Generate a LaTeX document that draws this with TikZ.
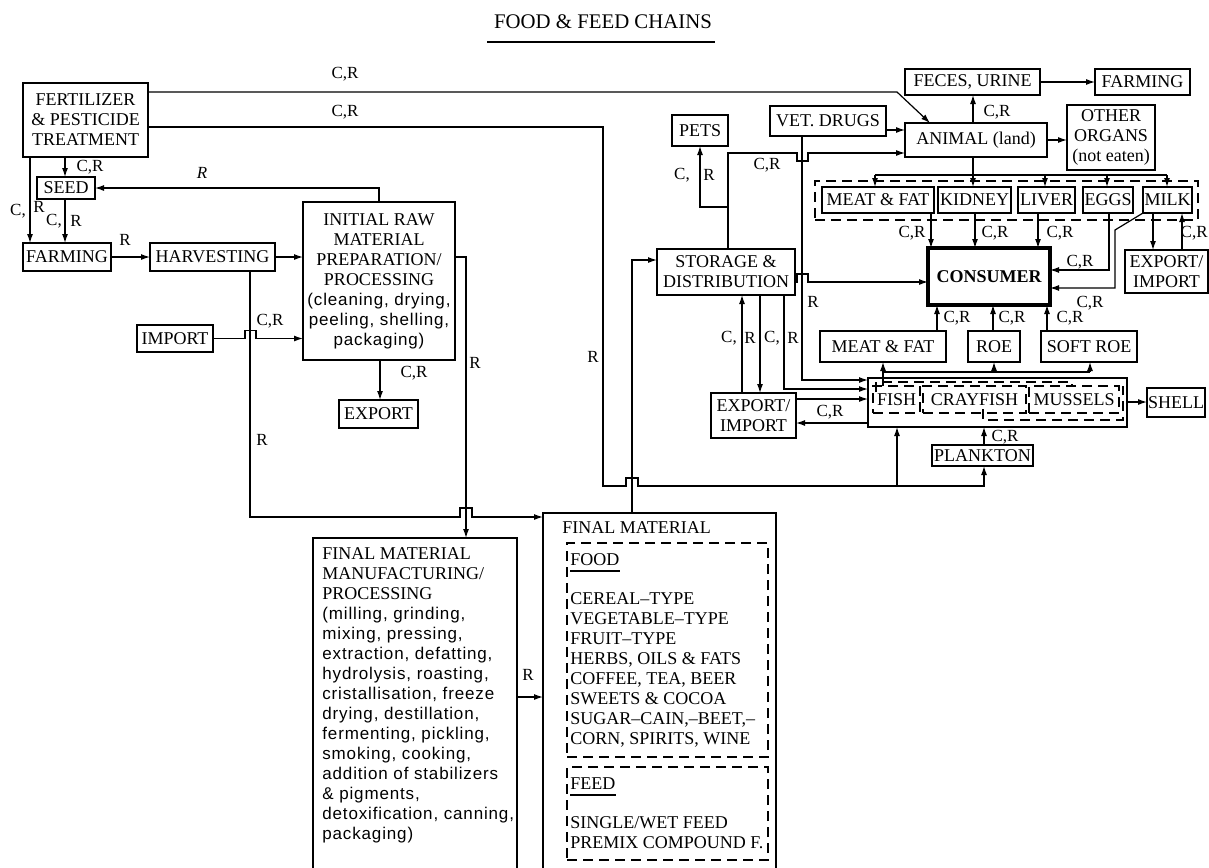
\documentclass[tikz,border=0pt]{standalone}
\usepackage{fontspec}
\setmainfont{Liberation Serif}
\newfontfamily\sfls[LetterSpace=5]{Liberation Sans}
\usetikzlibrary{arrows.meta}
\newcommand\bxfont{\fontsize{9}{10}\selectfont}
\newcommand\lbfont{\fontsize{8.5}{9}\selectfont}
\newcommand\sfs{\sfls\fontsize{8.5}{10}\selectfont}
\newcommand\mkbox[7][]{%
  \pgfmathsetmacro\bcx{(#3+#5)/2}%
  \pgfmathsetmacro\bcy{(#4+#6)/2}%
  \pgfmathsetmacro\bw{(#5-#3)/2}%
  \pgfmathsetmacro\bh{(#6-#4)/2}%
  \node[box,minimum width=\bw pt,minimum height=\bh pt,#1] (#2) at (\bcx,\bcy) {#7};}
\tikzset{
  box/.style={draw,line width=1.1pt,inner sep=0.5pt,outer sep=0pt,font=\bxfont,align=center},
  thinbox/.style={line width=0.6pt},
  dbox/.style={draw,line width=0.6pt,dash pattern=on 5pt off 3pt,outer sep=0pt},
  dline/.style={line width=0.6pt,dash pattern=on 5pt off 3pt},
  conn/.style={line width=0.6pt},
  arr/.style={conn,-{Latex[length=4.5pt,width=3pt]}},
  lab/.style={font=\lbfont,inner sep=0pt},
  txt/.style={inner sep=0pt,font=\bxfont},
}
\begin{document}
\begin{tikzpicture}[x=0.5pt,y=-0.5pt]
\path[use as bounding box] (0,0) rectangle (1209,867);
\fill[white] (0,0) rectangle (1209,867);
\clip (0,0) rectangle (1209,867);

% title
\node[inner sep=0pt,font=\fontsize{10.4}{12}\selectfont] (title) at (603,22) {FOOD \& FEED CHAINS};
\draw[line width=0.9pt] (487,42) -- (715,42);

% ---------- boxes, left part
\mkbox{fert}{23}{83}{148}{157}{FERTILIZER\\\& PESTICIDE\\TREATMENT}
\mkbox{seed}{37}{177}{95}{199}{SEED}
\mkbox{farmL}{23}{243}{111}{271}{FARMING}
\mkbox{harv}{150}{243}{275}{271}{HARVESTING}
\mkbox{init}{303}{202}{455}{360}{INITIAL RAW\\MATERIAL\\PREPARATION/\\PROCESSING\\{\sfs (cleaning, drying,}\\{\sfs peeling, shelling,}\\{\sfs packaging)}}
\mkbox{import}{137}{325}{213}{352}{IMPORT}
\mkbox{exM}{339}{400}{418}{428}{EXPORT}
\mkbox{manuf}{313}{538}{517}{900}{}
\mkbox{finalM}{543}{513}{776}{900}{}
\mkbox[dbox]{food}{567}{543}{768}{757}{}
\mkbox[dbox]{feed}{567}{767}{768}{860}{}

\node[txt,anchor=north west,align=left] (manuftxt) at (322,547) {FINAL MATERIAL\\MANUFACTURING/\\PROCESSING\\{\sfs (milling, grinding,}\\{\sfs mixing, pressing,}\\{\sfs extraction, defatting,}\\{\sfs hydrolysis, roasting,}\\{\sfs cristallisation, freeze}\\{\sfs drying, destillation,}\\{\sfs fermenting, pickling,}\\{\sfs smoking, cooking,}\\{\sfs addition of stabilizers}\\{\sfs \& pigments,}\\{\sfs detoxification, canning,}\\{\sfs packaging)}};
\node[txt,anchor=west] (fmtitle) at (562,528) {FINAL MATERIAL};
\node[txt,anchor=base west] (foodt) at (570,565) {FOOD};
\draw[conn] ([yshift=-3pt]foodt.base west) -- ([yshift=-3pt]foodt.base east);
\node[txt,anchor=north west,align=left] (foodlist) at (570,592) {CEREAL–TYPE\\VEGETABLE–TYPE\\FRUIT–TYPE\\HERBS, OILS \& FATS\\COFFEE, TEA, BEER\\SWEETS \& COCOA\\SUGAR–CAIN,–BEET,–\\CORN, SPIRITS, WINE};
\node[txt,anchor=base west] (feedt) at (570,789) {FEED};
\draw[conn] ([yshift=-3pt]feedt.base west) -- ([yshift=-3pt]feedt.base east);
\node[txt,anchor=north west,align=left] (feedlist) at (570,816) {SINGLE/WET FEED\\PREMIX COMPOUND F.};

% ---------- boxes, right part
\mkbox{storage}{657}{249}{795}{295}{STORAGE \&\\DISTRIBUTION}
\mkbox{pets}{672}{115}{728}{146}{PETS}
\mkbox{vet}{770}{106}{886}{136}{VET. DRUGS}
\mkbox{feces}{905}{69}{1040}{95}{FECES, URINE}
\mkbox{farmR}{1095}{69}{1190}{95}{FARMING}
\mkbox{animal}{905}{123}{1047}{157}{ANIMAL (land)}
\mkbox{other}{1067}{105}{1155}{170}{OTHER\\ORGANS\\(not eaten)}
\mkbox[dbox]{agroup}{815}{181}{1198}{220}{}
\mkbox{meatA}{822}{187}{934}{213}{MEAT \& FAT}
\mkbox{kidney}{938}{187}{1011}{213}{KIDNEY}
\mkbox{liver}{1018}{187}{1075}{213}{LIVER}
\mkbox{eggs}{1083}{187}{1133}{213}{EGGS}
\mkbox{milk}{1143}{187}{1192}{213}{MILK}
\mkbox[line width=2pt,font=\bxfont\bfseries]{consumer}{928}{248}{1050}{305}{CONSUMER}
\mkbox{exR}{1125}{250}{1208}{293}{EXPORT/\\IMPORT}
\mkbox{meatF}{820}{331}{946}{362}{MEAT \& FAT}
\mkbox{roe}{968}{331}{1020}{362}{ROE}
\mkbox{softroe}{1041}{331}{1137}{362}{SOFT ROE}
\mkbox[thinbox]{fishbox}{868}{378}{1127}{427}{}
\mkbox[dbox]{fish}{873}{386}{920}{413}{FISH}
\mkbox[dbox]{cray}{923}{386}{1026}{413}{CRAYFISH}
\mkbox[dbox]{mussels}{1029}{386}{1119}{413}{MUSSELS}
% overlapping group frames inside the fish box
\draw[dline] (876,392) -- (876,382) -- (1072,382) -- (1072,387);
\draw[dline] (983,409) -- (983,420) -- (1123,420) -- (1123,386);
\mkbox{shell}{1147}{388}{1205}{417}{SHELL}
\mkbox{plankton}{932}{445}{1033}{466}{PLANKTON}
\mkbox{exL}{711}{393}{796}{438}{EXPORT/\\IMPORT}

% ---------- connectors, left
\draw[arr] (fert.east |- 0,92) -- (897,92) -- (930,0 |- animal.north);
\draw[arr] (fert.east |- 0,127) -- (603,127) -- (603,486) -- (626,486) -- (626,478) -- (638,478) -- (638,486) -- (984,486) -- (984,0 |- plankton.south);
\draw[arr] (897,486) -- (897,0 |- fishbox.south);
\draw[arr] (65,0 |- fert.south) -- (65,0 |- seed.north);
\draw[arr] (30,0 |- fert.south) -- (30,0 |- farmL.north);
\draw[arr] (65,0 |- seed.south) -- (65,0 |- farmL.north);
\draw[arr] (farmL.east) -- (harv.west);
\draw[arr] (harv.east) -- (init.west |- harv.east);
\draw[arr] (379,0 |- init.north) -- (379,188) -- (seed.east |- 0,188);
\draw[arr] (import.east) -- (245,0 |- import.east) -- ++(0,-8) -- ++(11,0) -- ++(0,8) -- (init.west |- import.east);
\draw[arr] (250,0 |- harv.south) -- (250,517) -- (460,517) -- (460,508) -- (472,508) -- (472,517) -- (finalM.west |- 0,517);
\draw[arr] (init.east |- 0,257) -- (466,257) -- (466,0 |- manuf.north);
\draw[arr] (380,0 |- init.south) -- (380,0 |- exM.north);
\draw[arr] (manuf.east |- 0,697) -- (finalM.west |- 0,697);
\draw[arr] (632,0 |- finalM.north) -- (632,260) -- (storage.west |- 0,260);

% ---------- connectors, right
\draw[arr] (728,0 |- storage.north) -- (728,153) -- (797,153) -- (797,161) -- (808,161) -- (808,153) -- (animal.west |- 0,153);
\draw[arr] (728,207) -- (700,207) -- (700,0 |- pets.south);
\draw[arr] (vet.east |- 0,130) -- (animal.west |- 0,130);
\draw[arr] (802,0 |- vet.south) -- (802,380) -- (fishbox.west |- 0,380);
\draw[arr] (storage.east |- 0,282) -- (797,282) -- (797,274) -- (808,274) -- (808,282) -- (consumer.west |- 0,282);
\draw[arr] (742,0 |- exL.north) -- (742,0 |- storage.south);
\draw[arr] (760,0 |- storage.south) -- (760,0 |- exL.north);
\draw[arr] (784,0 |- storage.south) -- (784,389) -- (fishbox.west |- 0,389);
\draw[arr] (exL.east |- 0,399) -- (fishbox.west |- 0,399);
\draw[arr] (fishbox.west |- 0,423) -- (exL.east |- 0,423);
\draw[arr] (883,0 |- fish.north) -- (883,0 |- meatF.south);
\draw[conn] (883,372) -- (1090,372);
\draw[arr] (994,372) -- (994,0 |- roe.south);
\draw[arr] (1090,372) -- (1090,0 |- softroe.south);
\draw[arr] (937,0 |- meatF.north) -- (937,0 |- consumer.south);
\draw[arr] (993,0 |- roe.north) -- (993,0 |- consumer.south);
\draw[arr] (1047,0 |- softroe.north) -- (1047,0 |- consumer.south);
\draw[arr] (fishbox.east |- 0,402) -- (shell.west |- 0,402);
\draw[arr] (984,0 |- plankton.north) -- (984,0 |- fishbox.south);
\draw[arr] (973,0 |- animal.north) -- (973,0 |- feces.south);
\draw[arr] (feces.east) -- (farmR.west);
\draw[arr] (animal.east |- 0,140) -- (other.west |- 0,140);
\draw[conn] (973,0 |- animal.south) -- (973,175);
\draw[conn] (875,175) -- (1167,175);
\foreach \xx/\nn in {875/meatA,973/kidney,1045/liver,1107/eggs,1167/milk}
  \draw[arr] (\xx,175) -- (\xx,0 |- \nn.north);
\draw[arr] (931,0 |- meatA.south) -- (931,0 |- consumer.north);
\draw[arr] (975,0 |- kidney.south) -- (975,0 |- consumer.north);
\draw[arr] (1038,0 |- liver.south) -- (1038,0 |- consumer.north);
\draw[arr] (1109,0 |- eggs.south) -- (1109,270) -- (consumer.east |- 0,270);
\draw[arr] (milk.south west) -- (1115,230) -- (1115,288) -- (consumer.east |- 0,288);
\draw[arr] (1153,0 |- milk.south) -- (1153,0 |- exR.north);
\draw[arr] (1182,0 |- exR.north) -- (1182,0 |- milk.south);

% ---------- labels
\node[lab] (l1) at (345,74) {C,R};
\node[lab] (l2) at (345,112) {C,R};
\node[lab] (l3) at (90,167) {C,R};
\node[lab] (l4) at (18,211) {C,};
\node[lab] (l5) at (39,207) {R};
\node[lab] (l6) at (54,221) {C,};
\node[lab] (l7) at (76,221) {R};
\node[lab] (l8) at (125,240) {R};
\node[lab,font=\lbfont\itshape] (l9) at (202,173) {R};
\node[lab] (l10) at (270,321) {C,R};
\node[lab] (l11) at (262,440) {R};
\node[lab] (l12) at (414,373) {C,R};
\node[lab] (l13) at (475,363) {R};
\node[lab] (l14) at (528,675) {R};
\node[lab] (l15) at (593,357) {R};
\node[lab] (l16) at (682,175) {C,};
\node[lab] (l17) at (709,175) {R};
\node[lab] (l18) at (767,165) {C,R};
\node[lab] (l19) at (997,112) {C,R};
\node[lab] (l20) at (912,233) {C,R};
\node[lab] (l21) at (995,233) {C,R};
\node[lab] (l22) at (1060,233) {C,R};
\node[lab] (l23) at (1080,262) {C,R};
\node[lab] (l24) at (1090,303) {C,R};
\node[lab,anchor=east] (l25) at (1208,233) {C,R};
\node[lab] (l26) at (813,302) {R};
\node[lab] (l27) at (729,338) {C,};
\node[lab] (l28) at (750,338) {R};
\node[lab] (l29) at (772,338) {C,};
\node[lab] (l30) at (793,338) {R};
\node[lab] (l31) at (830,412) {C,R};
\node[lab] (l32) at (957,318) {C,R};
\node[lab] (l33) at (1012,318) {C,R};
\node[lab] (l34) at (1070,318) {C,R};
\node[lab] (l35) at (1005,437) {C,R};
\end{tikzpicture}
\end{document}
